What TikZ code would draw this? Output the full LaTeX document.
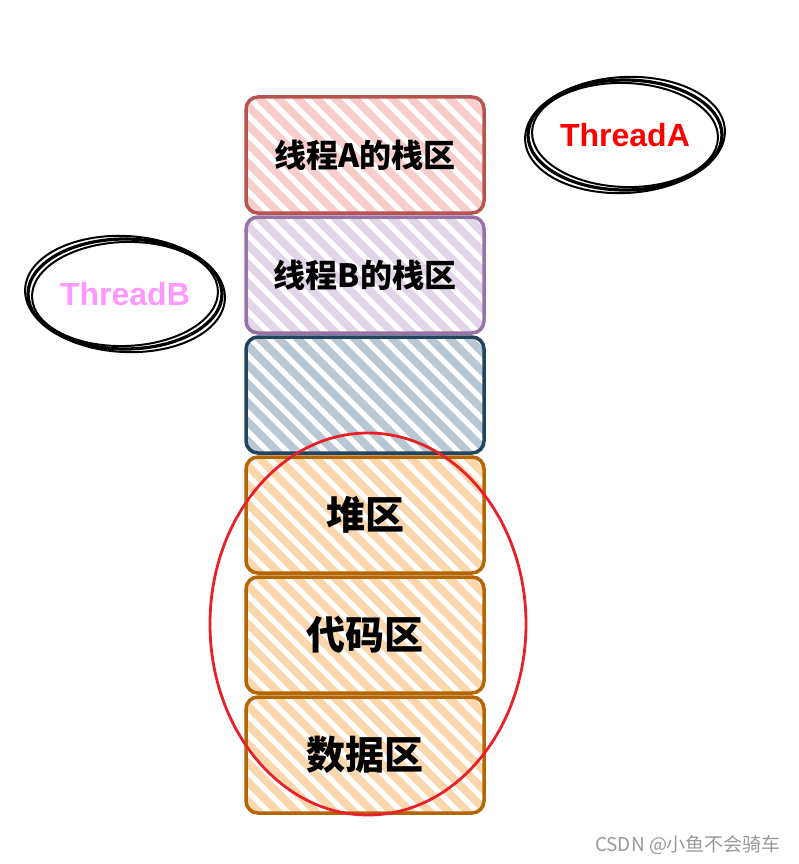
\documentclass[tikz,border=0pt]{standalone}
\usepackage{fontspec}
\newfontfamily\cjk{Noto Sans CJK SC}
\newfontfamily\arialf{Liberation Sans}
\usetikzlibrary{shapes.geometric}
\definecolor{redS}{HTML}{B85450}\definecolor{redF}{HTML}{F8CECC}
\definecolor{purS}{HTML}{9673A6}\definecolor{purF}{HTML}{E1D5E7}
\definecolor{bluS}{HTML}{23445D}\definecolor{bluF}{HTML}{BAC8D3}
\definecolor{oraS}{HTML}{B46504}\definecolor{oraF}{HTML}{FAD7AC}
\definecolor{ringred}{HTML}{E8202A}
\definecolor{thA}{HTML}{FF0000}\definecolor{thB}{HTML}{FF99FF}
\definecolor{wm}{HTML}{999999}
\begin{document}
\begin{tikzpicture}[x=1pt,y=-1pt,
  membox/.style 2 args={rectangle, rounded corners=12pt, minimum width=238pt,
    minimum height=116pt, inner sep=0pt, line width=3.5pt, draw=#2,
    path picture={\foreach \s in {-220,-201,...,220}{
      \draw[line width=8pt,line cap=round,draw=#1]
        ([shift={(\s pt-130pt,130pt)}]path picture bounding box.center) -- ++(260pt,-260pt);}}},
  smalltxt/.style={font=\cjk\bfseries\fontsize{32}{38}\selectfont},
  bigtxt/.style={font=\cjk\bfseries\fontsize{39}{46}\selectfont},
  threadnode/.style={ellipse, draw=black, line width=3.2pt, inner sep=0pt,
    minimum width=194pt, minimum height=110pt,
    font=\arialf\bfseries\fontsize{32}{38}\selectfont},
  sketchline/.style={draw=black, line width=2pt},
]
\useasboundingbox (0,0) rectangle (799,864);
\node[membox={redF}{redS}, smalltxt] (stackA) at (365,155) {线程A的栈区};
\node[membox={purF}{purS}, smalltxt] (stackB) at (365,275) {线程B的栈区};
\node[membox={bluF}{bluS}] (free) at (365,395) {};
\node[membox={oraF}{oraS}, bigtxt] (heap) at (365,515) {堆区};
\node[membox={oraF}{oraS}, bigtxt] (code) at (365,635) {代码区};
\node[membox={oraF}{oraS}, bigtxt] (data) at (365,755) {数据区};

\node[threadnode, text=thA] (threadA) at (625,135) {ThreadA};
\draw[sketchline] (threadA.center) ellipse[x radius=93pt, y radius=52pt, rotate=-2];
\draw[sketchline] (threadA.center) ellipse[x radius=100pt, y radius=58pt, rotate=3];
\node[threadnode, text=thB] (threadB) at (125,294) {ThreadB};
\draw[sketchline] (threadB.center) ellipse[x radius=93pt, y radius=52pt, rotate=2];
\draw[sketchline] (threadB.center) ellipse[x radius=100pt, y radius=58pt, rotate=-3];

\node[ellipse, draw=ringred, line width=2.8pt, minimum width=316pt, minimum height=382pt] (ring) at (368,624) {};

\node[font=\cjk\fontsize{19}{22}\selectfont, text=wm] (mark) at (688,845) {CSDN @小鱼不会骑车};
\end{tikzpicture}
\end{document}
